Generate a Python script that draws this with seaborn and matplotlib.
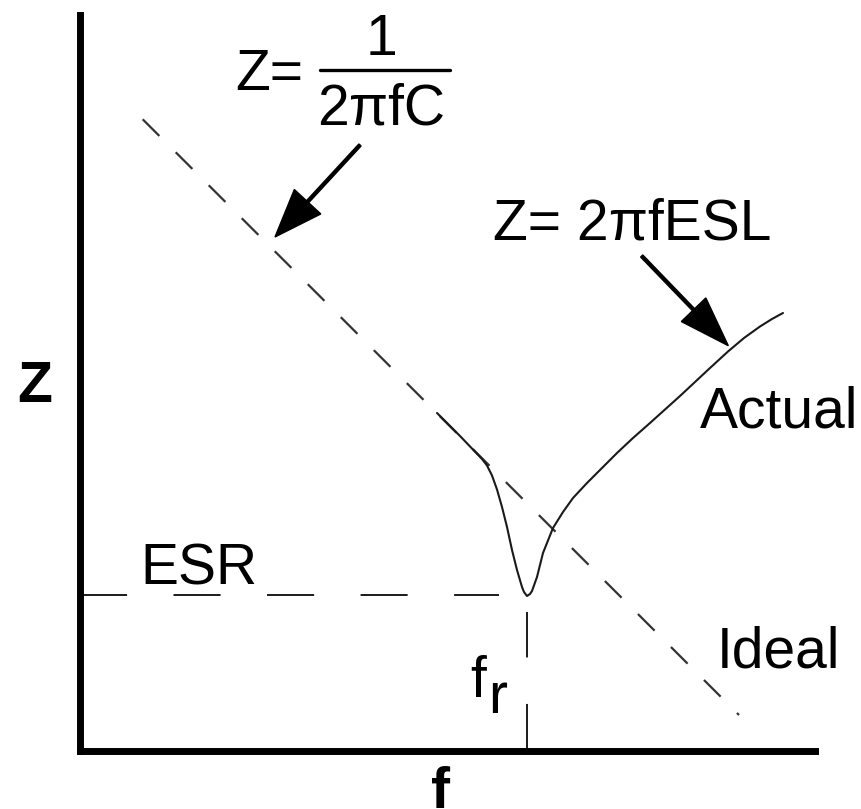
import matplotlib
matplotlib.use("Agg")
import matplotlib.pyplot as plt
import numpy as np
import seaborn as sns

# Impedance of a real capacitor versus frequency (schematic, arbitrary units)
ideal_f = [62.7, 659.0]
ideal_z = [632.2, 36.5]

actual_f = [357, 380, 402, 407, 412, 417, 422, 427, 432, 437, 442, 444, 447,
            450, 452, 457, 463, 473, 483, 493, 507, 520, 537, 553, 570, 600,
            630, 648, 664, 680, 692, 703]
actual_z = [338.5, 315.5, 292.5, 286.0, 276.0, 262.0, 244.5, 224.5, 201.5,
            181.5, 164.5, 159.5, 155.5, 157.5, 160.5, 174.5, 198.5, 223.5,
            239.5, 253.5, 268.5, 281.5, 298.5, 313.5, 328.5, 355.5, 383.5,
            400.0, 413.5, 425.0, 432.5, 438.5]

esr_f = [0, 419]
esr_z = [156.5, 156.5]

fr_f = [447.3, 447.3]
fr_z = [0, 139.5]

sns.set_theme(style="white")
plt.rcParams["font.family"] = ["Liberation Sans", "DejaVu Sans"]

fig = plt.figure(figsize=(8.62, 8.09), dpi=100)
ax = fig.add_axes([0.0928, 0.07108, 0.8521, 0.90977])
ax.set_xlim(0, 734.5)
ax.set_ylim(0, 736)

ink = "#1a1a1a"
sns.lineplot(x=ideal_f, y=ideal_z, ax=ax, color="#333333", linewidth=1.6,
             linestyle=(0, (10.6, 10.4)), estimator=None, sort=False)
sns.lineplot(x=esr_f, y=esr_z, ax=ax, color=ink, linewidth=1.4,
             linestyle=(0, (24.2, 23.9)), estimator=None, sort=False)
sns.lineplot(x=fr_f, y=fr_z, ax=ax, color=ink, linewidth=1.4,
             linestyle=(0, (24.2, 23.9)), estimator=None, sort=False)
sns.lineplot(x=actual_f, y=actual_z, ax=ax, color=ink, linewidth=1.5,
             estimator=None, sort=False)

# axes: only left and bottom, thick, no ticks
for side in ("top", "right"):
    ax.spines[side].set_visible(False)
for side in ("left", "bottom"):
    ax.spines[side].set_linewidth(5)
    ax.spines[side].set_color("black")
ax.set_xticks([])
ax.set_yticks([])
ax.set_xlabel("")
ax.set_ylabel("")

fs = 41
txt = dict(transform=ax.transData, fontsize=fs, color="black",
           va="baseline", clip_on=False)

# capacitive asymptote formula
ax.text(155, 661.5, "Z=", ha="left", **txt)
ax.text(302, 696.5, "1", ha="center", **txt)
ax.text(301, 626.5, "2\u03c0fC", ha="center", **txt)
ax.plot([240, 370], [681.5, 681.5], color="black", lw=2.4, clip_on=False)

# inductive asymptote formula
ax.text(413, 511.5, "Z= 2\u03c0fESL", ha="left", **txt)

ax.text(620, 323.5, "Actual", ha="left", **txt)
ax.text(637, 83.5, "Ideal", ha="left", **txt)
ax.text(60, 166.5, "ESR", ha="left", **txt)
ax.text(390, 54.5, "f", ha="left", **txt)
ax.text(408, 38.5, "r", ha="left", **txt)

# axis titles
ax.text(-63, 349.5, "Z", ha="left", fontweight="bold", **txt)
ax.text(361, -57, "f", ha="center", fontweight="bold", **txt)

# pointer arrows
ax.arrow(280, 606.5, 195 - 280, 514.5 - 606.5, width=3, head_width=36,
         head_length=48, length_includes_head=True, fc="black", ec="black")
ax.arrow(561.7, 495.5, 648.3 - 561.7, 405.8 - 495.5, width=3, head_width=34,
         head_length=50, length_includes_head=True, fc="black", ec="black")

fig.savefig("out.png", dpi=100)
